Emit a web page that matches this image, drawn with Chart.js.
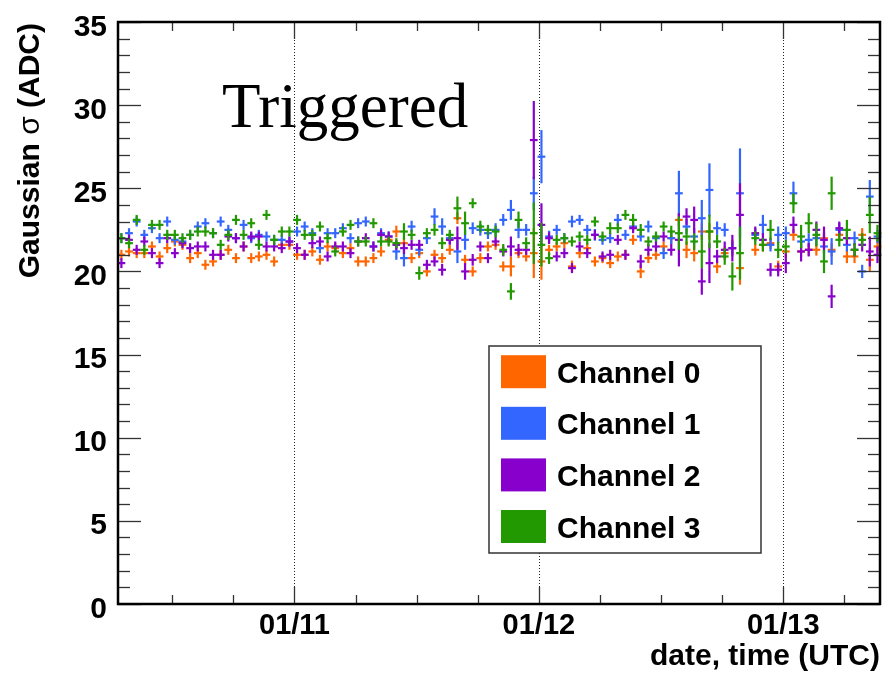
<!DOCTYPE html>
<html>
<head>
<meta charset="utf-8">
<title>Gaussian sigma vs time</title>
<script src="https://cdn.jsdelivr.net/npm/chart.js@4.4.1/dist/chart.umd.min.js"></script>
<style>
  html, body { margin: 0; padding: 0; background: #fff; }
  #wrap { width: 882px; height: 673px; }
</style>
</head>
<body>
<div id="wrap"><canvas id="sigma" width="882" height="673"></canvas></div>
<script>
// Time axis is in hours since 01/10 00:00 UTC, 45 minute bins
const X_MIN = 6.667;
const X_MAX = 81.5;
const BIN_START = 7.0;
const BIN_WIDTH = 0.75;
const NBINS = 100;

const dayHours = [24, 48, 72];
const dayLabels = ['01/11', '01/12', '01/13'];
const yMajorTicks = [0, 5, 10, 15, 20, 25, 30, 35];

const channelNames = ['Channel 0', 'Channel 1', 'Channel 2', 'Channel 3'];
const channelColors = ['#ff6600', '#3366ff', '#8800cc', '#229900'];

// Fitted gaussian sigma per bin (ADC), null = no data in that bin
const ch0 = [
  21.0, 21.2, 21.1, 21.1, 21.5, 20.9, 21.4, 21.8, 21.6, 20.8,
  21.1, 20.4, 20.6, 21.0, 21.3, 20.8, 21.5, 20.8, 20.9, 21.0,
  20.6, 21.6, 21.6, 21.0, 21.0, 21.2, 20.7, 21.5, 21.4, 21.1,
  21.4, 20.6, 20.6, 20.8, 21.2, 21.9, 22.4, 21.7, 20.8, 21.1,
  20.0, 21.0, 20.8, 21.3, 23.2, 20.7, 20.0, 20.8, 21.5, 21.6,
  20.3, 20.3, 21.1, 20.9, 21.1, 20.6, 21.3, 21.5, 21.7, 20.3,
  21.1, 21.4, 20.6, 20.8, 20.5, 20.9, 21.0, 21.9, 20.0, 20.8,
  21.0, 21.5, 22.0, 23.1, 21.3, 21.1, 22.4, 22.4, 20.3, 21.1,
  21.4, 20.2, null, 21.3, 21.6, 21.7, 20.3, 21.2, 22.2, 21.2,
  21.3, 21.3, 22.0, 21.3, 22.2, 20.9, 20.9, 22.2, 20.7, 21.5
];
const ch1 = [
  22.0, 22.3, 23.0, 22.2, 22.6, 22.0, 23.0, 21.9, 21.8, 22.2,
  22.7, 22.9, 22.3, 23.0, 22.5, 22.0, 22.8, 22.0, 22.2, 22.1,
  21.9, 21.9, 21.8, 22.4, 22.7, 22.3, 21.4, 22.3, 22.3, 22.6,
  22.0, 22.9, 23.0, 21.5, 22.3, 22.1, 21.2, 20.8, 22.7, 21.3,
  22.0, 23.3, 22.7, 22.0, 21.2, 21.9, 22.6, 22.5, 22.3, 22.5,
  23.1, 23.7, 22.5, 22.5, 24.7, 26.9, 22.1, 22.5, 22.0, 23.0,
  23.1, 22.5, 22.2, 21.9, 22.0, 23.1, 22.2, 22.7, 22.1, 22.7,
  22.0, 21.1, 22.0, 24.7, 22.7, 22.1, 23.2, 24.9, 22.6, 22.5,
  21.4, 24.7, null, 22.2, 22.8, 21.6, 22.2, 22.3, 24.7, 21.8,
  21.9, 22.0, 21.5, 21.2, 22.5, 21.6, 22.0, 20.0, 24.5, 22.1
];
const ch2 = [
  20.5, 21.9, 21.3, 21.8, 21.1, 20.5, 22.0, 21.1, 21.7, 21.4,
  21.5, 21.5, 21.0, 21.0, 22.1, 22.0, 21.5, 22.1, 22.1, 21.5,
  21.5, 21.4, 21.8, 21.4, 21.0, 21.7, 21.8, 20.9, 21.5, 21.5,
  21.1, 21.8, 22.0, 21.5, 22.2, 22.1, 21.6, 21.4, 21.6, 21.6,
  20.4, 20.6, 20.1, 21.9, 22.0, 20.0, 20.7, 21.5, 20.8, 21.8,
  21.2, 21.5, 21.3, 21.3, 27.9, 22.8, 22.0, 20.9, 21.1, 20.2,
  21.5, 21.1, 22.2, 20.9, 21.0, 21.9, 21.0, 22.6, 20.6, 21.3,
  21.5, 22.1, 21.3, 21.9, 23.3, 23.1, 19.4, 20.5, 20.9, 21.3,
  21.4, 23.4, null, 22.3, 21.9, 20.1, 20.1, 20.5, 22.8, 21.2,
  21.3, 22.5, 21.9, 18.5, 22.6, 22.0, 21.3, 21.6, 21.2, 21.0
];
const ch3 = [
  22.0, 21.7, 23.1, 21.3, 22.8, 22.8, 22.2, 22.2, 22.0, 22.2,
  22.4, 22.4, 22.3, 21.6, 22.2, 23.1, 22.2, 22.9, 21.6, 23.4,
  21.9, 22.4, 22.4, 23.1, 22.2, 22.2, 22.7, 22.0, 21.2, 22.4,
  22.8, 21.8, 21.8, 22.9, 21.8, 21.8, 21.7, 22.4, 22.2, 19.9,
  22.3, 22.5, 21.7, 22.2, 23.8, 22.9, 24.1, 22.7, 22.5, 22.4,
  21.3, 18.8, 23.1, 21.7, 22.3, 21.6, 20.8, 21.9, 22.0, 21.8,
  22.1, 21.9, 23.0, 22.1, 22.6, 22.6, 23.4, 23.1, 22.5, 21.8,
  22.1, 22.7, 22.4, 22.3, 22.1, 21.8, 21.2, 22.4, 21.8, 20.9,
  19.7, 21.1, null, 22.0, 21.6, 22.5, 21.3, 21.5, 24.1, 22.1,
  22.9, 22.2, 20.6, 24.7, 21.9, 22.5, 21.3, 21.9, 23.4, 22.3
];

// Fit uncertainty on sigma (ADC)
const err0 = [
  .3, .3, .3, .3, .3, .3, .3, .3, .3, .3,
  .3, .3, .3, .3, .3, .3, .3, .3, .3, .3,
  .3, .3, .3, .3, .3, .3, .3, .3, .3, .3,
  .3, .3, .3, .3, .3, .3, .35, .35, .3, .3,
  .3, .3, .3, .3, .35, .3, .3, .3, .3, .3,
  .3, .6, .3, .3, 1.5, 1.1, .3, .3, .3, .35,
  .3, .3, .3, .3, .3, .3, .3, .3, .4, .3,
  .3, .3, .35, .4, .5, .5, .5, .5, .4, .4,
  .5, 1.0, 0, .35, .4, .35, .35, .4, .35, .35,
  .35, .35, .4, .4, .4, .4, .4, .4, .7, .4
];
const err1 = [
  .3, .3, .3, .3, .3, .3, .3, .3, .3, .3,
  .3, .3, .3, .3, .3, .3, .3, .3, .3, .3,
  .3, .3, .3, .3, .3, .3, .3, .3, .3, .3,
  .3, .3, .3, .3, .3, .3, .5, .5, .35, .35,
  .35, .5, .5, .35, .7, .6, .35, .35, .35, .4,
  .35, .6, .5, .35, 1.0, 1.6, .35, .3, .3, .35,
  .3, .3, .35, .3, .3, .35, .3, .3, .3, .35,
  .3, .35, .35, 1.35, .45, .5, 1.1, 1.6, .4, .4,
  .4, 2.7, 0, .4, .6, .4, .5, .4, .7, .4,
  .4, .4, .8, .8, .4, .4, .4, .4, 1.0, .4
];
const err2 = [
  .3, .3, .3, .3, .3, .3, .3, .3, .3, .3,
  .3, .3, .3, .3, .3, .3, .3, .3, .3, .3,
  .3, .3, .3, .3, .3, .3, .3, .3, .3, .3,
  .3, .3, .3, .3, .3, .3, .3, .35, .3, .3,
  .3, .3, .35, .3, .7, .5, .35, .3, .3, .3,
  .3, .6, .35, .3, 2.35, 1.3, .35, .3, .3, .3,
  .3, .3, .3, .3, .3, .3, .3, .3, .4, .35,
  .3, .3, .35, 1.6, .5, .8, .8, 1.2, .4, .5,
  .8, 1.9, 0, .4, .4, .4, .4, .6, .5, .6,
  .4, .5, .8, .7, .4, .4, .4, .4, .9, .5
];
const err3 = [
  .3, .3, .3, .3, .3, .3, .3, .3, .3, .3,
  .3, .3, .3, .3, .3, .3, .3, .3, .3, .3,
  .3, .3, .3, .3, .3, .3, .3, .3, .3, .3,
  .3, .3, .3, .3, .3, .3, .3, .5, .3, .4,
  .3, .35, .35, .3, .7, .7, .3, .35, .3, .35,
  .35, .5, .5, .35, 1.85, 1.3, .35, .3, .3, .3,
  .3, .3, .3, .3, .35, .3, .3, .35, .35, .3,
  .3, .3, .35, 1.0, .5, .5, 1.0, 1.0, .4, .5,
  .85, 1.6, 0, .4, .4, .6, .5, .4, .6, .7,
  .6, .7, .7, 1.0, .4, .6, .4, .4, 1.1, .5
];

const SANS = '"Liberation Sans", Arial, Helvetica, sans-serif';
const SERIF = '"Liberation Serif", "Times New Roman", serif';

// bin centres in hours
const binCentres = [];
for (let i = 0; i < NBINS; i++) binCentres.push(BIN_START + BIN_WIDTH * i);

function toPoints(values, errors) {
  const pts = [];
  values.forEach((v, i) => {
    if (v === null) return;
    pts.push({ x: binCentres[i], y: v, yerr: errors[i] });
  });
  return pts;
}

const series = [[ch0, err0], [ch1, err1], [ch2, err2], [ch3, err3]];

// ── ROOT-style frame, ticks, error crosses and legend ───────────

function tick(ctx, x1, y1, x2, y2) {
  ctx.beginPath();
  ctx.moveTo(x1, y1);
  ctx.lineTo(x2, y2);
  ctx.stroke();
}

const rootStyle = {
  id: 'rootStyle',

  beforeDatasetsDraw(chart) {
    const { ctx, chartArea: a, scales: { x } } = chart;
    ctx.save();
    ctx.strokeStyle = '#222';
    ctx.lineWidth = 1;
    ctx.setLineDash([1, 2]);
    dayHours.forEach(h => {
      const px = Math.round(x.getPixelForValue(h)) + 0.5;
      tick(ctx, px, a.top, px, a.bottom);
    });
    ctx.restore();
  },

  afterDatasetsDraw(chart) {
    const { ctx, scales: { x, y } } = chart;
    const half = 0.38; // horizontal half width of a cross, hours
    ctx.save();
    ctx.lineWidth = 2.2;
    ctx.lineCap = 'butt';
    chart.data.datasets.forEach(ds => {
      ctx.strokeStyle = ds.borderColor;
      ds.data.forEach(p => {
        const px = x.getPixelForValue(p.x);
        const py = y.getPixelForValue(p.y);
        tick(ctx, x.getPixelForValue(p.x - half), py, x.getPixelForValue(p.x + half), py);
        tick(ctx, px, y.getPixelForValue(p.y + p.yerr), px, y.getPixelForValue(p.y - p.yerr));
      });
    });
    ctx.restore();
  },

  afterDraw(chart) {
    const { ctx, chartArea: a, scales: { x, y } } = chart;
    ctx.save();

    // inner ticks on all four sides
    ctx.strokeStyle = '#333';
    ctx.lineWidth = 1.3;
    for (let v = 0; v <= 35; v++) {
      const py = Math.round(y.getPixelForValue(v)) + 0.5;
      const len = v % 5 === 0 ? 23 : 12;
      tick(ctx, a.left, py, a.left + len, py);
      tick(ctx, a.right, py, a.right - len, py);
    }
    for (let h = 12; h < X_MAX; h += 6) {
      const px = Math.round(x.getPixelForValue(h)) + 0.5;
      const len = h % 24 === 0 ? 17 : 9;
      tick(ctx, px, a.bottom, px, a.bottom - len);
      tick(ctx, px, a.top, px, a.top + len);
    }

    // frame
    ctx.strokeStyle = '#000';
    ctx.lineWidth = 2.5;
    ctx.strokeRect(a.left, a.top, a.right - a.left, a.bottom - a.top);

    // tick labels
    ctx.fillStyle = '#000';
    ctx.font = 'bold 30px ' + SANS;
    ctx.textAlign = 'right';
    ctx.textBaseline = 'alphabetic';
    yMajorTicks.forEach(v => {
      ctx.fillText(String(v), 107, y.getPixelForValue(v) + 13.5);
    });
    ctx.font = 'bold 29px ' + SANS;
    ctx.textAlign = 'center';
    dayHours.forEach((h, i) => {
      ctx.fillText(dayLabels[i], x.getPixelForValue(h), 634);
    });

    // axis titles
    ctx.font = 'bold 30px ' + SANS;
    ctx.textAlign = 'right';
    ctx.fillText('date, time (UTC)', 880, 665);

    ctx.save();
    ctx.translate(38.5, 23);
    ctx.rotate(-Math.PI / 2);
    ctx.textAlign = 'left';
    const partA = 'Gaussian ';
    const partB = '\u03c3';
    const partC = ' (ADC)';
    ctx.font = 'bold 30px ' + SANS;
    const wA = ctx.measureText(partA).width;
    const wC = ctx.measureText(partC).width;
    ctx.font = '30px ' + SANS;
    const wB = ctx.measureText(partB).width;
    let cx = -(wA + wB + wC);
    ctx.font = 'bold 30px ' + SANS;
    ctx.fillText(partA, cx, 0);
    cx += wA;
    ctx.font = '30px ' + SANS;
    ctx.fillText(partB, cx, 0);
    cx += wB;
    ctx.font = 'bold 30px ' + SANS;
    ctx.fillText(partC, cx, 0);
    ctx.restore();

    // pad label
    ctx.font = '63px ' + SERIF;
    ctx.textAlign = 'left';
    ctx.fillText('Triggered', 222, 127);

    // legend box
    const lx = 489, ly = 346, lw = 272, lh = 207;
    ctx.fillStyle = '#fff';
    ctx.fillRect(lx, ly, lw, lh);
    ctx.strokeStyle = '#333';
    ctx.lineWidth = 1.5;
    ctx.strokeRect(lx, ly, lw, lh);
    ctx.font = 'bold 30px ' + SANS;
    ctx.textAlign = 'left';
    channelNames.forEach((name, i) => {
      const cy = 371.7 + 51.6 * i;
      ctx.fillStyle = channelColors[i];
      ctx.fillRect(501, cy - 16.5, 45, 33);
      ctx.fillStyle = '#000';
      ctx.fillText(name, 557, cy + 11);
    });

    ctx.restore();
  }
};

new Chart(document.getElementById('sigma'), {
  type: 'scatter',
  data: {
    datasets: series.map(([vals, errs], i) => ({
      label: channelNames[i],
      data: toPoints(vals, errs),
      borderColor: channelColors[i],
      backgroundColor: channelColors[i],
      pointRadius: 0,
      showLine: false,
    })),
  },
  options: {
    responsive: false,
    animation: false,
    devicePixelRatio: 1,
    events: [],
    layout: { padding: { left: 118, top: 22, right: 2, bottom: 69 } },
    plugins: {
      legend: { display: false },
      tooltip: { enabled: false },
    },
    scales: {
      x: { type: 'linear', min: X_MIN, max: X_MAX, display: false },
      y: { type: 'linear', min: 0, max: 35, display: false },
    },
  },
  plugins: [rootStyle],
});
</script>
</body>
</html>
